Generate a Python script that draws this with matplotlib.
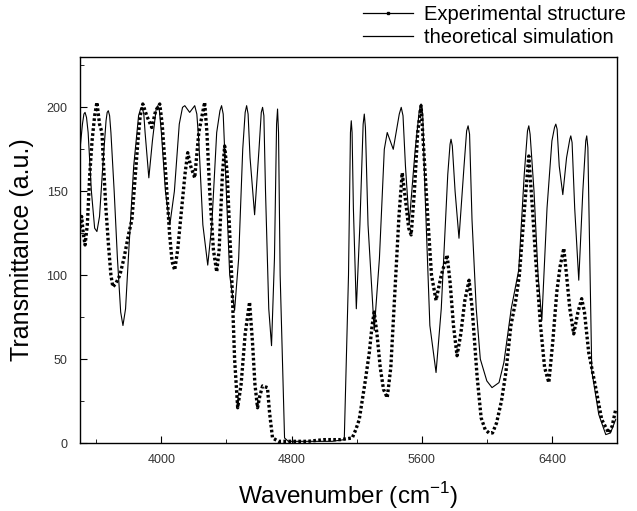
import matplotlib
matplotlib.use('Agg')
import matplotlib.pyplot as plt
from matplotlib.lines import Line2D
from matplotlib.ticker import MultipleLocator
import numpy as np

plt.rcParams['font.family'] = ['Liberation Sans', 'DejaVu Sans']

# theoretical simulation
theo_x = [3500, 3515, 3524, 3531, 3540, 3550, 3570, 3590, 3604, 3620, 3640, 3660,
          3667, 3674, 3682, 3690, 3710, 3730, 3750, 3764, 3780, 3800, 3830, 3860,
          3872, 3882, 3892, 3900, 3923, 3945, 3968, 3978, 3988, 4000, 4025, 4052,
          4080, 4110, 4130, 4144, 4174, 4205, 4218, 4230, 4255, 4285, 4310, 4340,
          4360, 4370, 4380, 4395, 4420, 4450, 4475, 4500, 4515, 4524, 4533, 4545,
          4573, 4600, 4614, 4622, 4630, 4640, 4660, 4677, 4695, 4708, 4714, 4720,
          4730, 4757, 4780, 4900, 5050, 5124, 5150, 5162, 5167, 5172, 5180, 5198,
          5220, 5240, 5247, 5254, 5270, 5308, 5340, 5370, 5388, 5425, 5462, 5474,
          5485, 5500, 5523, 5560, 5585, 5596, 5606, 5620, 5650, 5688, 5720, 5760,
          5774, 5780, 5788, 5805, 5829, 5860, 5876, 5885, 5894, 5909, 5935, 5960,
          6000, 6032, 6075, 6105, 6150, 6196, 6230, 6250, 6258, 6266, 6290, 6315,
          6338, 6370, 6400, 6416, 6424, 6432, 6445, 6467, 6490, 6510, 6516, 6524,
          6540, 6565, 6590, 6608, 6614, 6621, 6645, 6688, 6731, 6760, 6792]
theo_y = [175, 190, 196, 197, 194, 185, 150, 128, 126, 135, 165, 192,
          197, 198, 195, 185, 150, 110, 78, 70, 80, 115, 165, 195,
          199, 200, 196, 185, 158, 180, 199, 201, 198, 185, 150, 130,
          150, 190, 200, 201, 197, 201, 196, 180, 130, 106, 130, 185,
          198, 201, 196, 160, 100, 79, 110, 175, 197, 201, 196, 170,
          136, 175, 197, 200, 195, 150, 80, 58, 110, 190, 199, 185,
          100, 3, 1, 1, 1, 2, 100, 185, 192, 185, 140, 80,
          130, 190, 196, 188, 130, 67, 110, 175, 185, 175, 196, 200,
          195, 165, 131, 175, 198, 202, 196, 150, 70, 42, 80, 160,
          178, 181, 177, 150, 122, 165, 186, 189, 184, 133, 80, 50,
          37, 33, 36, 48, 80, 103, 160, 186, 189, 184, 150, 100,
          73, 140, 180, 188, 190, 187, 165, 148, 170, 181, 183, 179,
          140, 97, 150, 180, 183, 176, 43, 17, 5, 6, 14]

# experimental structure
exp_x = [3500, 3510, 3520, 3531, 3545, 3560, 3574, 3590, 3604, 3620, 3635, 3645,
         3659, 3675, 3690, 3702, 3720, 3745, 3770, 3800, 3819, 3840, 3856, 3870,
         3886, 3910, 3941, 3965, 3990, 4005, 4027, 4050, 4066, 4082, 4100, 4125,
         4145, 4162, 4180, 4205, 4230, 4266, 4280, 4297, 4320, 4340, 4355, 4375,
         4389, 4405, 4420, 4432, 4450, 4469, 4490, 4515, 4542, 4560, 4575, 4591,
         4605, 4622, 4652, 4665, 4683, 4720, 4800, 4900, 5000, 5100, 5173, 5195,
         5216, 5250, 5278, 5295, 5308, 5325, 5345, 5365, 5388, 5410, 5435, 5460,
         5480, 5500, 5520, 5535, 5555, 5575, 5596, 5615, 5640, 5660, 5688, 5720,
         5756, 5775, 5795, 5817, 5840, 5865, 5891, 5910, 5940, 5965, 5990, 6013,
         6035, 6060, 6090, 6117, 6148, 6178, 6200, 6216, 6240, 6258, 6280, 6300,
         6330, 6355, 6381, 6405, 6430, 6450, 6473, 6490, 6510, 6534, 6560, 6583,
         6600, 6626, 6669, 6706, 6749, 6770, 6792]
exp_y = [128, 135, 125, 118, 130, 160, 180, 195, 203, 190, 185, 165,
         140, 118, 100, 93, 95, 100, 110, 125, 133, 160, 180, 195,
         202, 195, 188, 198, 202, 190, 160, 125, 108, 103, 115, 140,
         160, 173, 165, 158, 185, 203, 185, 150, 115, 102, 115, 160,
         177, 160, 125, 100, 50, 21, 35, 65, 84, 60, 35, 21,
         28, 34, 33, 18, 3, 1, 1, 1, 2, 2, 3, 8,
         14, 35, 54, 70, 78, 65, 45, 32, 27, 45, 90, 135,
         161, 145, 128, 124, 150, 185, 201, 170, 130, 100, 85, 100,
         112, 95, 70, 52, 65, 85, 97, 80, 40, 15, 8, 6,
         6, 12, 25, 42, 70, 85, 100, 120, 150, 171, 140, 110,
         70, 45, 36, 60, 90, 105, 116, 100, 80, 65, 78, 86,
         78, 54, 33, 14, 6, 10, 20]

fig = plt.figure(figsize=(6.37, 5.11), dpi=100)
ax = fig.add_axes([80/637, 68/511, 537/637, 386/511])

ax.plot(theo_x, theo_y, color='k', lw=0.8)
ax.plot(exp_x, exp_y, color='k', lw=2.4, linestyle=(0, (0.8, 0.7)))

ax.set_xlim(3500, 6800)
ax.set_ylim(0, 230)
ax.xaxis.set_major_locator(MultipleLocator(800))
ax.xaxis.set_minor_locator(MultipleLocator(400))
ax.yaxis.set_major_locator(MultipleLocator(50))
ax.yaxis.set_minor_locator(MultipleLocator(25))
ax.tick_params(which='both', direction='in', top=False, right=False,
               labelsize=9, labelcolor='#333333')
ax.tick_params(axis='y', which='major', length=5, pad=9)
ax.tick_params(axis='x', which='major', length=5, pad=8)
ax.tick_params(which='minor', length=3)
for s in ax.spines.values():
    s.set_linewidth(1.0)

ax.set_xlabel('Wavenumber (cm$^{\\mathregular{-1}}$)', fontsize=17.5, labelpad=10)
ax.set_ylabel('Transmittance (a.u.)', fontsize=18, labelpad=9)

handles = [Line2D([], [], color='k', lw=0.9, marker='s', ms=2),
           Line2D([], [], color='k', lw=0.9)]
fig.legend(handles, ['Experimental structure', 'theoretical simulation'],
           loc='upper left', bbox_to_anchor=(363/637, 1 - 5/511),
           frameon=False, fontsize=14.5, numpoints=1, handlelength=2.5,
           handletextpad=0.55, labelspacing=0.2, borderpad=0, borderaxespad=0)

fig.savefig('out.png', dpi=100)
